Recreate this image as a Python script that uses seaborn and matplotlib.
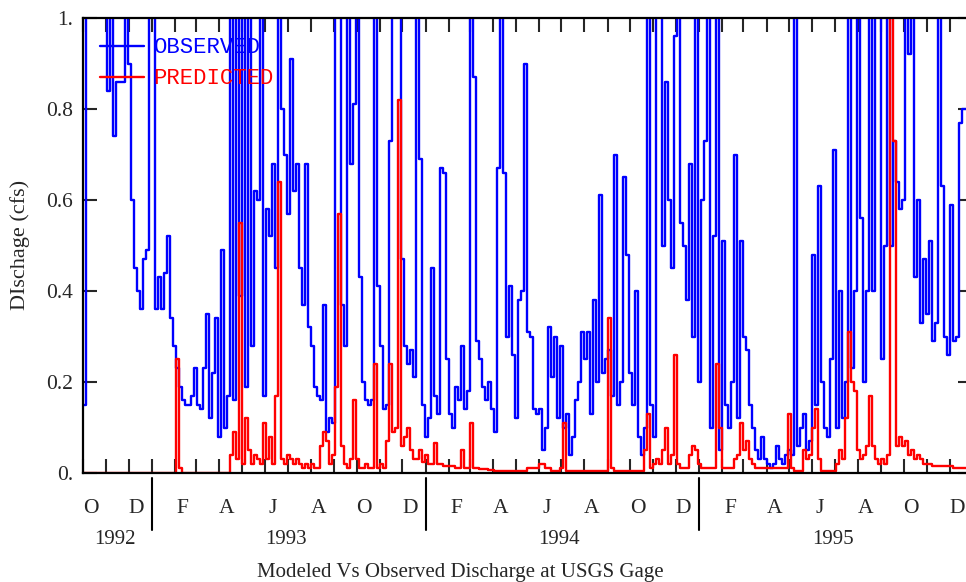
import matplotlib
matplotlib.use("Agg")
import matplotlib.pyplot as plt
import matplotlib.dates as mdates
import matplotlib.ticker as mticker
import pandas as pd
import seaborn as sns

start_date = "1992-10-01"
step = "4D"

observed = [
    0.15, 1.4, 1.5, 1.3, 1.2, 1.1, 1.2, 1.1, 0.84, 1.2,
    0.74, 0.86, 0.86, 0.86, 1.3, 0.9, 0.6, 0.45, 0.40, 0.36,
    0.47, 0.49, 1.5, 1.3, 0.36, 0.43, 0.36, 0.44, 0.52, 0.34,
    0.28, 0.23, 0.19, 0.16, 0.15, 0.15, 0.17, 0.23, 0.15, 0.14,
    0.23, 0.35, 0.12, 0.22, 0.34, 0.08, 0.49, 0.10, 0.17, 1.4,
    0.16, 1.5, 0.39, 1.2, 0.19, 1.3, 0.28, 0.62, 0.60, 1.2,
    0.17, 0.58, 0.52, 0.68, 0.45, 1.1, 0.8, 0.7, 0.57, 0.91,
    0.62, 0.68, 0.45, 0.37, 0.68, 0.32, 0.28, 0.19, 0.17, 0.16,
    0.37, 0.09, 0.12, 0.11, 1.5, 1.3, 0.37, 0.28, 1.2, 0.68,
    0.81, 1.1, 0.43, 0.20, 0.16, 0.15, 0.16, 1.3, 0.41, 0.28,
    0.14, 0.15, 0.73, 1.4, 1.6, 1.2, 0.47, 0.28, 0.24, 0.27,
    0.21, 1.2, 0.69, 0.15, 0.08, 0.12, 0.45, 0.17, 0.13, 0.67,
    0.66, 0.25, 0.13, 0.10, 0.19, 0.16, 0.28, 0.14, 0.18, 1.3,
    0.87, 0.29, 0.25, 0.19, 0.16, 0.20, 0.14, 0.09, 0.67, 1.3,
    0.66, 0.30, 0.41, 0.26, 0.12, 0.38, 0.40, 0.90, 0.31, 0.30,
    0.14, 0.13, 0.14, 0.05, 0.10, 0.32, 0.21, 0.30, 0.12, 0.28,
    0.10, 0.13, 0.04, 0.08, 0.16, 0.20, 0.31, 0.25, 0.31, 0.13,
    0.38, 0.20, 0.61, 0.22, 0.25, 0.27, 0.17, 0.70, 0.15, 0.20,
    0.65, 0.48, 0.22, 0.15, 0.40, 0.08, 0.04, 0.10, 1.3, 0.15,
    0.08, 1.4, 1.2, 0.50, 0.86, 0.60, 0.45, 0.96, 1.2, 0.55,
    0.50, 0.38, 0.68, 0.30, 1.3, 0.20, 0.60, 0.73, 1.2, 0.10,
    0.52, 1.3, 0.05, 0.51, 0.15, 0.10, 0.20, 0.70, 0.12, 0.51,
    0.30, 0.27, 0.15, 0.10, 0.05, 0.03, 0.08, 0.03, 0.02, 0.01,
    0.02, 0.06, 0.03, 0.02, 0.04, 0.05, 0.04, 1.3, 0.06, 0.10,
    0.13, 0.05, 0.07, 0.48, 0.15, 0.63, 0.20, 0.10, 0.08, 0.25,
    0.71, 0.10, 0.40, 0.12, 0.20, 1.3, 0.23, 0.40, 1.2, 0.56,
    0.20, 0.40, 1.3, 0.40, 1.1, 1.3, 0.25, 0.50, 1.2, 0.50,
    0.73, 0.64, 0.58, 0.60, 1.3, 0.92, 1.1, 0.43, 0.60, 0.33,
    0.47, 0.35, 0.51, 0.29, 0.33, 1.1, 0.63, 0.30, 0.26, 0.59,
    0.29, 0.30, 0.77, 0.80, 0.80, 0.70, 0.80,
]

predicted = [
    0.0, 0.0, 0.0, 0.0, 0.0, 0.0, 0.0, 0.0, 0.0, 0.0,
    0.0, 0.0, 0.0, 0.0, 0.0, 0.0, 0.0, 0.0, 0.0, 0.0,
    0.0, 0.0, 0.0, 0.0, 0.0, 0.0, 0.0, 0.0, 0.0, 0.0,
    0.0, 0.25, 0.01, 0.0, 0.0, 0.0, 0.0, 0.0, 0.0, 0.0,
    0.0, 0.0, 0.0, 0.0, 0.0, 0.0, 0.0, 0.0, 0.0, 0.04,
    0.09, 0.03, 0.55, 0.02, 0.12, 0.05, 0.02, 0.04, 0.03, 0.02,
    0.11, 0.03, 0.08, 0.02, 0.17, 0.64, 0.03, 0.02, 0.04, 0.03,
    0.02, 0.03, 0.02, 0.01, 0.02, 0.01, 0.02, 0.01, 0.01, 0.06,
    0.09, 0.07, 0.02, 0.04, 0.19, 0.57, 0.06, 0.02, 0.01, 0.03,
    0.16, 0.03, 0.01, 0.01, 0.02, 0.01, 0.01, 0.24, 0.01, 0.02,
    0.01, 0.07, 0.24, 0.09, 0.10, 0.82, 0.06, 0.08, 0.10, 0.05,
    0.03, 0.03, 0.05, 0.025, 0.04, 0.02, 0.02, 0.065, 0.02, 0.02,
    0.015, 0.015, 0.015, 0.015, 0.01, 0.01, 0.05, 0.01, 0.01, 0.11,
    0.01, 0.01, 0.008, 0.008, 0.008, 0.006, 0.006, 0.005, 0.005, 0.005,
    0.005, 0.005, 0.005, 0.005, 0.005, 0.005, 0.005, 0.005, 0.01, 0.01,
    0.01, 0.01, 0.02, 0.02, 0.01, 0.01, 0.005, 0.005, 0.005, 0.01,
    0.11, 0.005, 0.005, 0.005, 0.005, 0.005, 0.005, 0.005, 0.005, 0.005,
    0.005, 0.005, 0.005, 0.005, 0.005, 0.34, 0.01, 0.005, 0.005, 0.005,
    0.005, 0.005, 0.005, 0.005, 0.005, 0.005, 0.005, 0.05, 0.13, 0.01,
    0.02, 0.03, 0.02, 0.05, 0.10, 0.02, 0.04, 0.26, 0.02, 0.01,
    0.01, 0.01, 0.04, 0.06, 0.05, 0.02, 0.01, 0.01, 0.01, 0.01,
    0.01, 0.24, 0.10, 0.01, 0.01, 0.01, 0.01, 0.03, 0.04, 0.11,
    0.05, 0.07, 0.03, 0.02, 0.01, 0.01, 0.01, 0.01, 0.01, 0.01,
    0.01, 0.01, 0.01, 0.01, 0.01, 0.13, 0.01, 0.005, 0.005, 0.005,
    0.05, 0.03, 0.04, 0.10, 0.14, 0.03, 0.005, 0.005, 0.005, 0.005,
    0.005, 0.02, 0.05, 0.03, 0.12, 0.31, 0.20, 0.18, 0.05, 0.03,
    0.04, 0.06, 0.17, 0.06, 0.03, 0.02, 0.03, 0.02, 0.04, 1.2,
    0.73, 0.06, 0.08, 0.06, 0.07, 0.04, 0.05, 0.03, 0.04, 0.03,
    0.02, 0.02, 0.02, 0.015, 0.015, 0.015, 0.015, 0.015, 0.015, 0.015,
    0.012, 0.012, 0.012, 0.01, 0.01, 0.01, 0.01,
]

y_ticks = [0.0, 0.2, 0.4, 0.6, 0.8, 1.0]
y_tick_labels = ["0.", "0.2", "0.4", "0.6", "0.8", "1."]
years = [1992, 1993, 1994, 1995]

dates = pd.date_range(start_date, periods=len(observed), freq=step)
df = pd.DataFrame({"date": dates, "observed": observed, "predicted": predicted})

sns.set_style("ticks")
plt.rcParams["font.family"] = ["Liberation Serif", "DejaVu Serif"]

fig = plt.figure(figsize=(9.66, 5.82), dpi=100)
# right spine sits just past the image edge, as in the original
ax = fig.add_axes([83 / 966, 1 - 473 / 582, 889 / 966, 455 / 582])

sns.lineplot(data=df, x="date", y="observed", ax=ax, color="#0000ff", lw=1.7,
             drawstyle="steps-post", estimator=None, label="OBSERVED")
sns.lineplot(data=df, x="date", y="predicted", ax=ax, color="#ff0000", lw=1.7,
             drawstyle="steps-post", estimator=None, label="PREDICTED")

x0 = pd.Timestamp("1992-10-01")
x1 = pd.Timestamp("1995-12-31")
ax.set_xlim(x0, x1)
ax.set_ylim(0, 1)

for s in ax.spines.values():
    s.set_visible(True)
    s.set_linewidth(1.6)
    s.set_color("black")

ax.set_yticks(y_ticks)
ax.yaxis.set_major_formatter(mticker.FixedFormatter(y_tick_labels))
ax.tick_params(axis="y", which="major", direction="in", length=10, width=1.5,
               left=True, right=True, labelsize=15.5, pad=7)

ax.xaxis.set_major_locator(mdates.MonthLocator())
ax.xaxis.set_major_formatter(mticker.NullFormatter())
ax.xaxis.set_minor_locator(mdates.MonthLocator(bymonth=[2, 4, 6, 8, 10, 12], bymonthday=11))
ax.xaxis.set_minor_formatter(
    mticker.FuncFormatter(lambda v, p: mdates.num2date(v).strftime("%b")[0]))
ax.tick_params(axis="x", which="major", direction="in", length=10, width=1.5,
               bottom=True, top=True)
ax.tick_params(axis="x", which="minor", length=0, labelsize=15.5, pad=19)

ax.set_xlabel("")
ax.set_ylabel("")

# year separators and year labels under the month letters
xtrans = ax.get_xaxis_transform()
for yr in years[1:]:
    d = mdates.date2num(pd.Timestamp(f"{yr}-01-01"))
    ax.plot([d, d], [-0.012, -0.125], transform=xtrans, color="black", lw=1.5,
            clip_on=False)
for yr in years:
    a = max(pd.Timestamp(f"{yr}-01-01"), x0)
    b = min(pd.Timestamp(f"{yr + 1}-01-01"), x1)
    mid = mdates.date2num(a + (b - a) / 2)
    ax.text(mid - 4, -0.147, str(yr), transform=xtrans, ha="center", va="center",
            fontsize=15)

ax.legend(loc="upper left", bbox_to_anchor=(0.007, 0.982), frameon=False,
          borderpad=0, handlelength=1.95, handletextpad=0.45, labelspacing=0.45,
          prop={"family": "Liberation Mono", "size": 16}, labelcolor="linecolor")

fig.text(20 / 966, 1 - 245 / 582, "DIschage (cfs)", rotation=90, ha="center",
         va="center", fontsize=16)
fig.text(460 / 966, 1 - 572 / 582, "Modeled Vs Observed Discharge at USGS Gage",
         ha="center", va="center", fontsize=15)

fig.savefig("out.png", dpi=100)
plt.close(fig)
